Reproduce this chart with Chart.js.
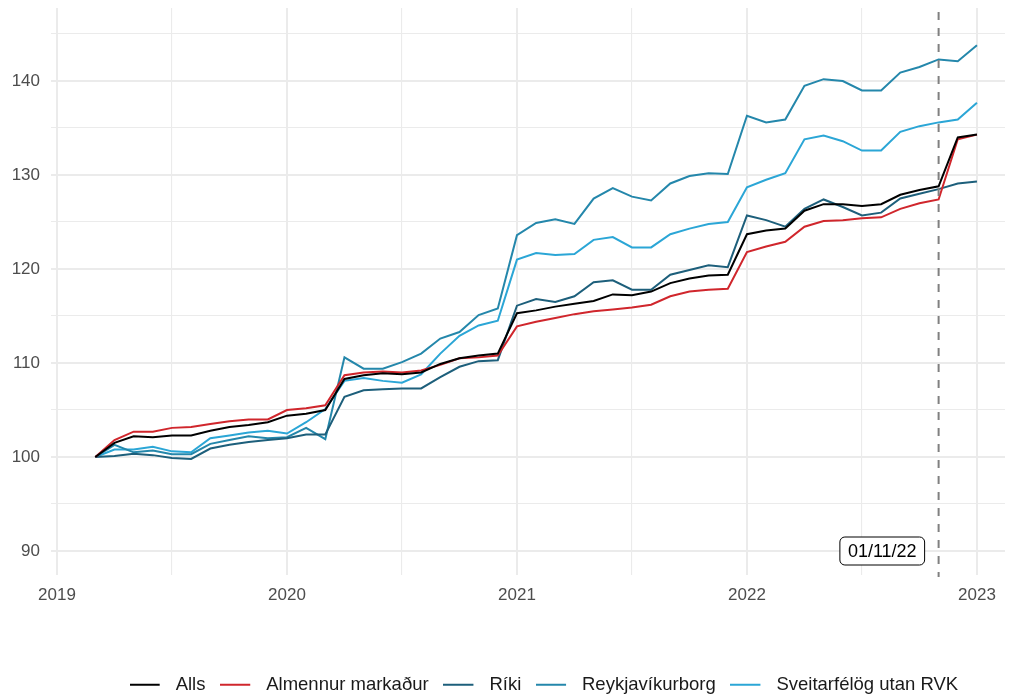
<!DOCTYPE html>
<html>
<head>
<meta charset="utf-8">
<script src="https://cdn.jsdelivr.net/npm/chart.js@4.4.0/dist/chart.umd.min.js"></script>
<style>
  html, body { margin: 0; padding: 0; background: #fff; overflow: hidden; }
</style>
</head>
<body>
<canvas id="myChart" width="1010" height="698"></canvas>
<script>
// monthly index, 2019-03 = 100
const months = [
    '2019-03','2019-04','2019-05','2019-06','2019-07','2019-08','2019-09','2019-10','2019-11','2019-12',
    '2020-01','2020-02','2020-03','2020-04','2020-05','2020-06','2020-07','2020-08','2020-09','2020-10','2020-11','2020-12',
    '2021-01','2021-02','2021-03','2021-04','2021-05','2021-06','2021-07','2021-08','2021-09','2021-10','2021-11','2021-12',
    '2022-01','2022-02','2022-03','2022-04','2022-05','2022-06','2022-07','2022-08','2022-09','2022-10','2022-11','2022-12',
    '2023-01'
];

const alls = [100, 101.5, 102.2, 102.1, 102.3, 102.3, 102.8, 103.2, 103.4, 103.7,
    104.4, 104.6, 105.0, 108.3, 108.7, 108.9, 108.8, 109.0, 109.9, 110.5, 110.8, 111.0,
    115.3, 115.6, 116.0, 116.3, 116.6, 117.3, 117.2, 117.6, 118.5, 119.0, 119.3, 119.4,
    123.7, 124.1, 124.3, 126.2, 126.9, 126.9, 126.7, 126.9, 127.9, 128.4, 128.8, 134.0,
    134.3];
const almennur = [100, 101.8, 102.7, 102.7, 103.1, 103.2, 103.5, 103.8, 104.0, 104.0,
    105.0, 105.2, 105.5, 108.7, 109.0, 109.1, 109.0, 109.2, 109.8, 110.5, 110.6, 110.8,
    113.9, 114.4, 114.8, 115.2, 115.5, 115.7, 115.9, 116.2, 117.1, 117.6, 117.8, 117.9,
    121.8, 122.4, 122.9, 124.5, 125.1, 125.2, 125.4, 125.5, 126.4, 127.0, 127.4, 133.8,
    134.3];
const riki = [100, 100.1, 100.35, 100.2, 99.9, 99.8, 100.9, 101.3, 101.6, 101.8,
    102.0, 102.4, 102.4, 106.4, 107.1, 107.2, 107.3, 107.3, 108.5, 109.6, 110.2, 110.3,
    116.1, 116.8, 116.5, 117.1, 118.6, 118.8, 117.8, 117.8, 119.4, 119.9, 120.4, 120.2,
    125.7, 125.2, 124.5, 126.4, 127.4, 126.6, 125.7, 126.0, 127.5, 128.0, 128.5, 129.1,
    129.3];
const reykjavik = [100, 101.3, 100.5, 100.7, 100.3, 100.3, 101.4, 101.8, 102.2, 102.0,
    102.1, 103.1, 101.9, 110.6, 109.4, 109.4, 110.1, 111.0, 112.6, 113.3, 115.1, 115.8,
    123.6, 124.9, 125.3, 124.8, 127.5, 128.6, 127.7, 127.3, 129.1, 129.9, 130.2, 130.1,
    136.3, 135.6, 135.9, 139.5, 140.2, 140.0, 139.0, 139.0, 140.9, 141.5, 142.3, 142.1,
    143.8];
const sveitarfelog = [100, 100.8, 100.8, 101.1, 100.6, 100.5, 102.0, 102.3, 102.6, 102.8,
    102.5, 103.7, 105.1, 108.1, 108.4, 108.1, 107.9, 108.8, 111.0, 112.9, 114.0, 114.5,
    121.0, 121.7, 121.5, 121.6, 123.1, 123.4, 122.3, 122.3, 123.7, 124.3, 124.8, 125.0,
    128.7, 129.5, 130.2, 133.8, 134.2, 133.6, 132.6, 132.6, 134.6, 135.2, 135.6, 135.9,
    137.7];

const seriesNames = ['Alls', 'Almennur markaður', 'Ríki', 'Reykjavíkurborg', 'Sveitarfélög utan RVK'];
const seriesValues = [alls, almennur, riki, reykjavik, sveitarfelog];
const seriesColors = ['#000000', '#d0262c', '#1d5f7b', '#2487ab', '#2ba6d6'];

const markerMonth = '2022-11';
const markerText = '01/11/22';
const markerY = 90;

const FONT = '"Liberation Sans", Arial, sans-serif';
Chart.defaults.font.family = FONT;

// 'YYYY-MM' -> decimal year
function xOf(m){
    const p = m.split('-');
    return Number(p[0]) + (Number(p[1]) - 1) / 12;
}

// short line used as legend key, with blank room after it
function legendKey(color){
    const c = document.createElement('canvas');
    c.width = 37; c.height = 4;
    const g = c.getContext('2d');
    g.strokeStyle = color; g.lineWidth = 2;
    g.beginPath(); g.moveTo(0, 2); g.lineTo(30, 2); g.stroke();
    return c;
}
const legendKeys = seriesColors.map(legendKey);

const markerPlugin = {
    id: 'marker',
    afterLayout(chart){
        // push legend a bit lower and right, like the ggplot original
        const lg = chart.legend;
        lg.top += 6; lg.bottom += 6;
        lg.left += 36; lg.right += 36;
    },
    afterDatasetsDraw(chart){
        const {ctx, chartArea, scales} = chart;
        const px = scales.x.getPixelForValue(xOf(markerMonth));
        ctx.save();
        ctx.strokeStyle = '#808080';
        ctx.lineWidth = 2;
        ctx.setLineDash([8, 8]);
        ctx.beginPath();
        ctx.moveTo(px, chartArea.top + 4);
        ctx.lineTo(px, chartArea.bottom + 2);
        ctx.stroke();
        ctx.setLineDash([]);

        ctx.font = '18px ' + FONT;
        const tw = ctx.measureText(markerText).width;
        const w = tw + 16, h = 28;
        const right = px - 14;
        const cy = scales.y.getPixelForValue(markerY);
        const left = right - w, top = cy - h / 2;
        ctx.beginPath();
        ctx.roundRect(left, top, w, h, 5);
        ctx.fillStyle = '#ffffff';
        ctx.fill();
        ctx.strokeStyle = '#000000';
        ctx.lineWidth = 1;
        ctx.stroke();
        ctx.fillStyle = '#000000';
        ctx.textAlign = 'center';
        ctx.textBaseline = 'middle';
        ctx.fillText(markerText, left + w / 2, cy + 1);
        ctx.restore();
    }
};

const datasets = seriesNames.map(function(name, k){
    return {
        label: name,
        data: months.map((m, i) => ({x: xOf(m), y: seriesValues[k][i]})),
        borderColor: seriesColors[k],
        backgroundColor: seriesColors[k],
        borderWidth: 2,
        pointRadius: 0,
        tension: 0,
        fill: false
    };
});

const gridWidth = (major) => (ctx) => major(ctx.tick.value) ? 2 : 1.1;

const ctx = document.getElementById('myChart').getContext('2d');
const myChart = new Chart(ctx, {
    type: 'line',
    data: { datasets: datasets },
    plugins: [markerPlugin],
    options: {
        responsive: false,
        animation: false,
        layout: { padding: { top: 8, left: 11, right: 5, bottom: 0 } },
        plugins: {
            tooltip: { enabled: false },
            legend: {
                position: 'bottom',
                labels: {
                    usePointStyle: true,
                    pointStyleWidth: 36.5,
                    padding: 15,
                    color: '#1a1a1a',
                    font: { size: 18.5 },
                    generateLabels(chart){
                        const items = Chart.defaults.plugins.legend.labels.generateLabels(chart);
                        items.forEach(it => { it.pointStyle = legendKeys[it.datasetIndex]; });
                        return items;
                    }
                }
            }
        },
        scales: {
            x: {
                type: 'linear',
                min: 2018.974,
                max: 2023.122,
                afterFit(scale){
                    scale.height = 79.5;
                    scale.paddingLeft = 0; scale.paddingRight = 0;
                },
                border: { display: false },
                grid: { color: '#ebebeb', lineWidth: gridWidth(v => Number.isInteger(v)), drawTicks: false },
                ticks: {
                    stepSize: 0.5,
                    includeBounds: false,
                    autoSkip: false,
                    maxRotation: 0,
                    padding: 10,
                    color: '#4d4d4d',
                    font: { size: 17 },
                    callback: v => Number.isInteger(v) ? String(v) : ''
                }
            },
            y: {
                min: 87.447,
                max: 147.77,
                afterFit(scale){
                    scale.width = 40;
                    scale.paddingTop = 0; scale.paddingBottom = 0;
                },
                border: { display: false },
                grid: { color: '#ebebeb', lineWidth: gridWidth(v => v % 10 === 0), drawTicks: false },
                ticks: {
                    stepSize: 5,
                    includeBounds: false,
                    padding: 11,
                    color: '#4d4d4d',
                    font: { size: 17 },
                    callback: v => v % 10 === 0 ? String(v) : ''
                }
            }
        }
    }
});
</script>
</body>
</html>
